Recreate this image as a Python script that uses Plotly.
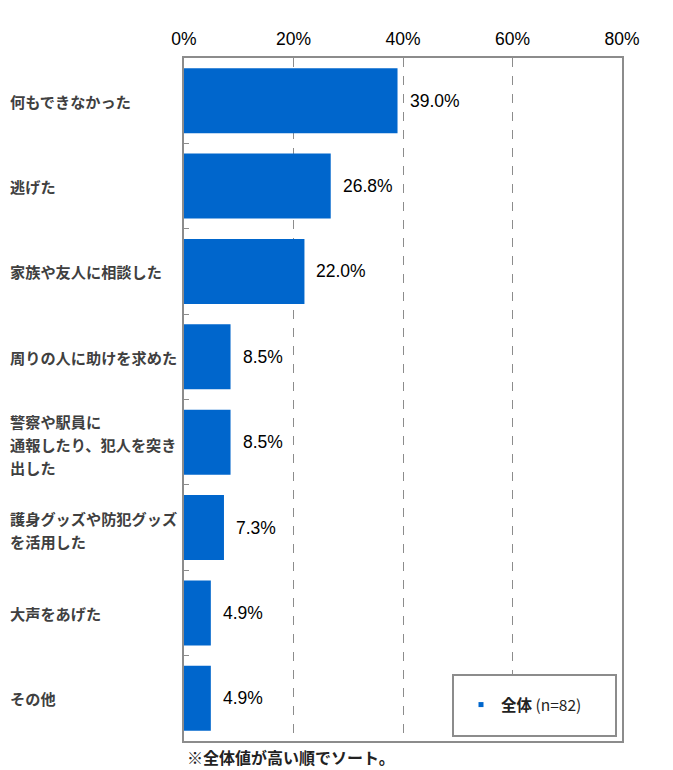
import plotly.graph_objects as go

categories = [
    "何もできなかった",
    "逃げた",
    "家族や友人に相談した",
    "周りの人に助けを求めた",
    "警察や駅員に\n通報したり、犯人を突き\n出した",
    "護身グッズや防犯グッズ\nを活用した",
    "大声をあげた",
    "その他",
]
values = [39.0, 26.8, 22.0, 8.5, 8.5, 7.3, 4.9, 4.9]
series_name = "全体"
n_label = "(n=82)"
x_ticks = [0, 20, 40, 60, 80]
footnote = "※全体値が高い順でソート。"

BLUE = "#0066CC"
GRAY = "#8C8C8C"
LATIN = "Liberation Sans, Arial, Noto Sans CJK JP"
CJK = "Noto Sans CJK JP, Liberation Sans"

W, H = 673, 770
ML, MR, MT, MB = 184, 51, 58, 29
PW = W - ML - MR
PH = H - MT - MB

fig = go.Figure()
fig.add_trace(go.Bar(
    x=values, y=categories, orientation="h",
    marker=dict(color=BLUE, line=dict(width=0)),
    width=0.76, showlegend=False, hoverinfo="x+y",
))
fig.add_trace(go.Scatter(
    x=[None], y=[None], mode="markers",
    marker=dict(symbol="square", size=5, color=BLUE),
    name=f"<b>{series_name}</b> {n_label}", showlegend=True,
))

annotations = []
# value labels
for c, v in zip(categories, values):
    annotations.append(dict(
        x=v, y=c, xref="x", yref="y", text=f"{v:.1f}%",
        showarrow=False, xanchor="left", yanchor="middle", xshift=10,
        font=dict(family=LATIN, size=17.5, color="#000000"),
    ))
# category labels (left-aligned, line by line)
LINE = 23
for c in categories:
    lines = c.split("\n")
    n = len(lines)
    for k, ln in enumerate(lines):
        annotations.append(dict(
            x=(8 - ML) / PW, y=c, xref="paper", yref="y",
            text=f"<b>{ln}</b>", showarrow=False,
            xanchor="left", yanchor="middle",
            yshift=((n - 1) / 2 - k) * LINE - (2 if n > 1 else 0),
            font=dict(family=CJK, size=15.2, color="#404040"),
        ))
# footnote
annotations.append(dict(
    x=0, y=(741 - 757) / PH, xref="paper", yref="paper",
    text=f"<b>{footnote}</b>", showarrow=False,
    xanchor="left", yanchor="middle", xshift=1,
    font=dict(family=CJK, size=16, color="#222222"),
))

shapes = [dict(
    type="rect", xref="paper", yref="paper",
    x0=(453 - ML) / PW, x1=(616 - ML) / PW,
    y0=(741 - 736) / PH, y1=(741 - 675) / PH,
    fillcolor="#FFFFFF", line=dict(color=GRAY, width=2), layer="above",
)]

fig.update_layout(
    width=W, height=H,
    margin=dict(l=ML, r=MR, t=MT, b=MB, pad=0),
    paper_bgcolor="#FFFFFF", plot_bgcolor="#FFFFFF",
    bargap=0.24,
    annotations=annotations, shapes=shapes,
    legend=dict(
        x=(524 - ML) / PW, y=(741 - 705) / PH, xanchor="center", yanchor="middle",
        xref="paper", yref="paper",
        bgcolor="rgba(0,0,0,0)", borderwidth=0,
        font=dict(family=CJK, size=15.5, color="#222222"),
        itemwidth=30,
    ),
    xaxis=dict(
        range=[0, 80], side="top",
        tickvals=x_ticks, ticktext=[f"{t}%" for t in x_ticks],
        tickfont=dict(family=LATIN, size=17.5, color="#000000"),
        ticklabelstandoff=4,
        ticks="inside", ticklen=5, tickcolor=GRAY, tickwidth=1,
        showgrid=True, gridcolor=GRAY, griddash="dash", gridwidth=1,
        showline=True, linecolor=GRAY, linewidth=2, mirror=True,
        zeroline=False, fixedrange=True,
    ),
    yaxis=dict(
        type="category", categoryorder="array", categoryarray=categories,
        autorange="reversed", showticklabels=False,
        ticks="inside", tickson="boundaries", ticklen=5, tickcolor=GRAY,
        showgrid=False, showline=True, linecolor=GRAY, linewidth=2, mirror=True,
        zeroline=False, fixedrange=True,
    ),
)

fig.write_html("out.html")
